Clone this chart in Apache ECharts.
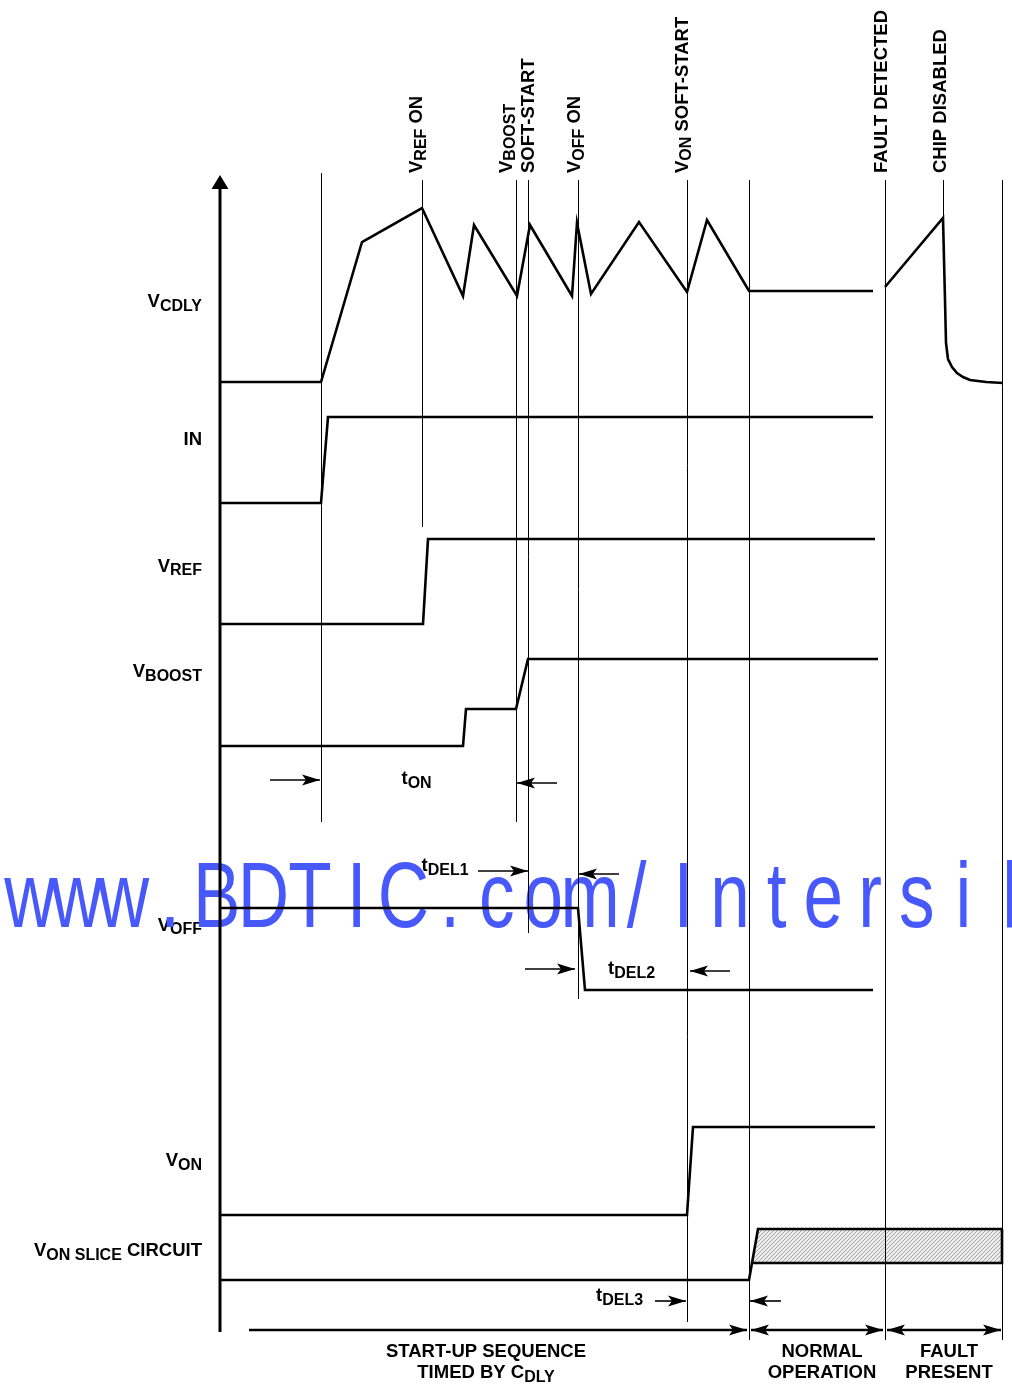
<!DOCTYPE html>
<html>
<head>
<meta charset="utf-8">
<script src="https://cdn.jsdelivr.net/npm/echarts@6/dist/echarts.min.js"></script>
<style>
  html, body { margin: 0; padding: 0; background: #fff; }
  #chart { width: 1012px; height: 1385px; }
</style>
</head>
<body>
<div id="chart"></div>
<script>
// waveforms as [time, level] in plot units (x: 0..1012, y: 0..1385 downwards)
var vcdlyStartup = [[220, 382], [321, 382], [362, 242], [422, 208], [463, 296], [474, 225], [517, 296], [530, 225],
  [572, 296], [577, 223], [591, 294], [639, 222], [687, 292], [707, 220], [749, 291], [873, 291]];
var vcdlyFault = [[885, 287], [943, 218], [945, 300], [946, 343], [948, 359], [952, 367], [957, 373], [963, 377],
  [970, 380], [986, 382], [1003, 383]];
var inWave = [[220, 503], [321, 503], [328, 417], [873, 417]];
var vrefWave = [[220, 624], [423, 624], [428, 539], [875, 539]];
var vboostWave = [[220, 746], [463, 746], [466, 709], [516, 709], [528, 659], [878, 659]];
var voffWave = [[220, 908], [578, 908], [585, 990], [873, 990]];
var vonWave = [[220, 1215], [687, 1215], [693, 1127], [875, 1127]];
var sliceLow = [[220, 1280], [749, 1280], [752, 1263], [1002, 1263], [1002, 1229]];
var sliceHigh = [[752, 1263], [758, 1229], [1002, 1229]];
var sliceBand = [[752, 1263], [758, 1229], [1002, 1229], [1002, 1263]];

// event markers: [time, top, bottom]
var markerLines = [[321, 173, 822], [422, 180, 527], [516, 180, 822], [528, 180, 933], [578, 180, 999],
  [687, 180, 1322], [749, 180, 1340], [885, 180, 1340], [943, 180, 218], [1002, 180, 1340]];

// timing arrows: [from, to, level, head at start, head at end]
var timingArrows = [[270, 320, 780, 0, 1], [517, 557, 783, 1, 0], [478, 528, 871, 0, 1], [579, 619, 874, 1, 0],
  [525, 575, 969, 0, 1], [690, 730, 971, 1, 0], [655, 686, 1301, 0, 1], [750, 781, 1301, 1, 0]];
var phaseArrows = [[249, 747, 1330, 0, 1], [751, 883, 1330, 1, 1], [887, 1001, 1330, 1, 1]];

// vertical axis [time, top, bottom]
var axisLine = [[220, 175, 1332]];

var watermark = 'www.BDTIC.com/Intersil';

var FONT = 'Liberation Sans';
var rich = {
  m: { fontFamily: FONT, fontSize: 18.5, fontWeight: 'bold', lineHeight: 18, verticalAlign: 'top', color: '#000' },
  s: { fontFamily: FONT, fontSize: 16, fontWeight: 'bold', lineHeight: 16, verticalAlign: 'top', padding: [6, 0, 0, 0], color: '#000' }
};

function txt(x, y, text, align, rot) {
  return {
    type: 'text', x: x, y: y, rotation: rot || 0, silent: true,
    style: { text: text, rich: rich, align: align || 'left', verticalAlign: 'top', fill: '#000' }
  };
}

// narrow face for the watermark, if it is there
var mc = document.createElement('canvas').getContext('2d');
mc.font = '50px "Liberation Sans Narrow", serif';
var wNarrow = mc.measureText('BDTICom').width;
mc.font = '50px serif';
var hasNarrow = Math.abs(wNarrow - mc.measureText('BDTICom').width) > 1;
var wmFont = hasNarrow ? 'Liberation Sans Narrow' : 'Liberation Sans';
var wmScale = hasNarrow ? 0.92 : 0.76;

// hatch pattern for the slice band
var pat = document.createElement('canvas');
pat.width = 4; pat.height = 4;
var pc = pat.getContext('2d');
pc.fillStyle = '#ececec'; pc.fillRect(0, 0, 4, 4);
pc.strokeStyle = '#a8a8a8'; pc.lineWidth = 1;
pc.beginPath(); pc.moveTo(0, 4); pc.lineTo(4, 0); pc.stroke();

function head(x, y, dir) {
  var L = 18, W = 5.5, N = 4;
  return {
    type: 'polygon',
    shape: { points: [[x, y], [x + dir * L, y - W], [x + dir * (L - N), y], [x + dir * L, y + W]] },
    style: { fill: '#000' }
  };
}

function arrowRender(width) {
  return function (params, api) {
    var a = api.coord([api.value(0), api.value(2)]);
    var b = api.coord([api.value(1), api.value(2)]);
    var ch = [{ type: 'line', shape: { x1: a[0], y1: a[1], x2: b[0], y2: b[1] }, style: { stroke: '#000', lineWidth: width } }];
    if (api.value(3)) ch.push(head(a[0], a[1], 1));
    if (api.value(4)) ch.push(head(b[0], b[1], -1));
    return { type: 'group', children: ch };
  };
}

function wave(data) {
  return {
    type: 'line', data: data, symbol: 'none', silent: true, animation: false, z: 5,
    lineStyle: { color: '#000', width: 2.6, join: 'miter', cap: 'butt' }
  };
}

var graphics = [
  // signal names
  txt(202, 292.5, '{m|V}{s|CDLY}', 'right'),
  txt(202, 430.5, '{m|IN}', 'right'),
  txt(202, 557, '{m|V}{s|REF}', 'right'),
  txt(202, 662.5, '{m|V}{s|BOOST}', 'right'),
  txt(202, 916, '{m|V}{s|OFF}', 'right'),
  txt(202, 1151.5, '{m|V}{s|ON}', 'right'),
  txt(202, 1241.5, '{m|V}{s|ON SLICE}{m| CIRCUIT}', 'right'),
  // event labels
  txt(407.5, 173, '{m|V}{s|REF}{m| ON}', 'left', Math.PI / 2),
  txt(497, 173, '{m|V}{s|BOOST}', 'left', Math.PI / 2),
  txt(519.5, 173, '{m|SOFT-START}', 'left', Math.PI / 2),
  txt(565.5, 173, '{m|V}{s|OFF}{m| ON}', 'left', Math.PI / 2),
  txt(673, 173, '{m|V}{s|ON}{m| SOFT-START}', 'left', Math.PI / 2),
  txt(872.5, 173, '{m|FAULT DETECTED}', 'left', Math.PI / 2),
  txt(931.5, 173, '{m|CHIP DISABLED}', 'left', Math.PI / 2),
  // timing names
  txt(401.5, 769.5, '{m|t}{s|ON}', 'left'),
  txt(421.5, 856.5, '{m|t}{s|DEL1}', 'left'),
  txt(608, 959.5, '{m|t}{s|DEL2}', 'left'),
  txt(596, 1286.5, '{m|t}{s|DEL3}', 'left'),
  // phases
  txt(486, 1342.5, '{m|START-UP SEQUENCE}', 'center'),
  txt(486, 1363.5, '{m|TIMED BY C}{s|DLY}', 'center'),
  txt(822, 1342, '{m|NORMAL}', 'center'),
  txt(822, 1363, '{m|OPERATION}', 'center'),
  txt(949, 1342, '{m|FAULT}', 'center'),
  txt(949, 1363, '{m|PRESENT}', 'center')
];
// watermark: evenly pitched characters
watermark.split('').forEach(function (ch, i) {
  graphics.push({
    type: 'text', x: 30 + 46.67 * i, y: 901, scaleX: wmScale, silent: true,
    style: { text: ch, fontFamily: wmFont, fontSize: 93.6, fill: '#4759fb', align: 'center', verticalAlign: 'middle' }
  });
});

var chart = echarts.init(document.getElementById('chart'));
var option = {
  backgroundColor: '#fff',
  animation: false,
  grid: { left: 0, right: 0, top: 0, bottom: 0 },
  xAxis: { type: 'value', min: 0, max: 1012, show: false },
  yAxis: { type: 'value', min: 0, max: 1385, inverse: true, show: false },
  series: [
    {
      type: 'custom', data: [0], silent: true, z: 3,
      renderItem: function (params, api) {
        var pts = sliceBand.map(function (p) { return api.coord(p); });
        return { type: 'polygon', shape: { points: pts }, style: { fill: { image: pat, repeat: 'repeat' } } };
      }
    },
    {
      type: 'custom', data: markerLines, silent: true, z: 4,
      renderItem: function (params, api) {
        var a = api.coord([api.value(0), api.value(1)]);
        var b = api.coord([api.value(0), api.value(2)]);
        var x = Math.round(a[0]) + 0.5;
        return { type: 'line', shape: { x1: x, y1: a[1], x2: x, y2: b[1] }, style: { stroke: '#000', lineWidth: 1 } };
      }
    },
    {
      type: 'custom', data: axisLine, silent: true, z: 6,
      renderItem: function (params, api) {
        var t = api.coord([api.value(0), api.value(1)]);
        var b = api.coord([api.value(0), api.value(2)]);
        return {
          type: 'group', children: [
            { type: 'line', shape: { x1: t[0], y1: t[1] + 12, x2: b[0], y2: b[1] }, style: { stroke: '#000', lineWidth: 3 } },
            { type: 'polygon', shape: { points: [[t[0], t[1]], [t[0] - 8.5, t[1] + 14], [t[0] + 8.5, t[1] + 14]] }, style: { fill: '#000' } }
          ]
        };
      }
    },
    { type: 'custom', data: timingArrows, silent: true, z: 6, renderItem: arrowRender(1.6) },
    { type: 'custom', data: phaseArrows, silent: true, z: 6, renderItem: arrowRender(2.5) },
    wave(vcdlyStartup), wave(vcdlyFault), wave(inWave), wave(vrefWave), wave(vboostWave),
    wave(voffWave), wave(vonWave), wave(sliceLow), wave(sliceHigh)
  ],
  graphic: graphics
};
chart.setOption(option);
</script>
</body>
</html>
